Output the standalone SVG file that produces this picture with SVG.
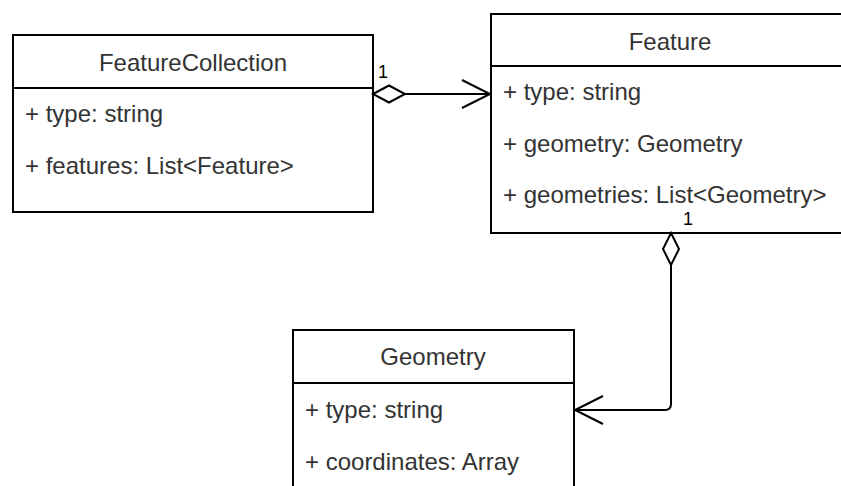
<svg xmlns="http://www.w3.org/2000/svg" width="841" height="486" viewBox="0 0 841 486">
<style>
.box{fill:#fff;stroke:#000;stroke-width:2}
.div{stroke:#000;stroke-width:2}
.t{font-family:"Liberation Sans",Arial,sans-serif;font-size:24px;fill:#333}
.c{text-anchor:middle}
.ln{fill:none;stroke:#000;stroke-width:2}
.dm{fill:#fff;stroke:#000;stroke-width:2}
.lbl{font-family:"Liberation Sans",Arial,sans-serif;font-size:18px;fill:#000}
</style>
<rect width="841" height="486" fill="#fff"/>
<g id="FeatureCollection">
<rect class="box" x="13" y="35" width="360" height="177"/>
<line class="div" x1="13" y1="88" x2="373" y2="88"/>
<text class="t c" x="193" y="71">FeatureCollection</text>
<text class="t" x="25" y="122">+ type: string</text>
<text class="t" x="25" y="174">+ features: List&lt;Feature&gt;</text>
</g>
<g id="Feature">
<rect class="box" x="491" y="14" width="360" height="219"/>
<line class="div" x1="491" y1="66" x2="851" y2="66"/>
<text class="t c" x="670" y="50">Feature</text>
<text class="t" x="503" y="100">+ type: string</text>
<text class="t" x="503" y="152">+ geometry: Geometry</text>
<text class="t" x="503" y="203">+ geometries: List&lt;Geometry&gt;</text>
</g>
<g id="Geometry">
<rect class="box" x="293" y="330" width="281" height="170"/>
<line class="div" x1="293" y1="383" x2="574" y2="383"/>
<text class="t c" x="433" y="365">Geometry</text>
<text class="t" x="305" y="418">+ type: string</text>
<text class="t" x="305" y="470">+ coordinates: Array</text>
</g>
<g id="connectors">
<path class="ln" d="M405 94 H490"/>
<path class="dm" d="M373 94 L389 85.5 L405 94 L389 102.5 Z"/>
<path class="ln" d="M462 80 L490 94 L462 108"/>
<text class="lbl" x="378" y="78">1</text>
<path class="ln" d="M671 265 V404 Q671 410 665 410 H575"/>
<path class="dm" d="M671 233 L679 249 L671 265 L663 249 Z"/>
<path class="ln" d="M603 396 L575 410 L603 424"/>
<text class="lbl" x="683" y="225">1</text>
</g>
</svg>
